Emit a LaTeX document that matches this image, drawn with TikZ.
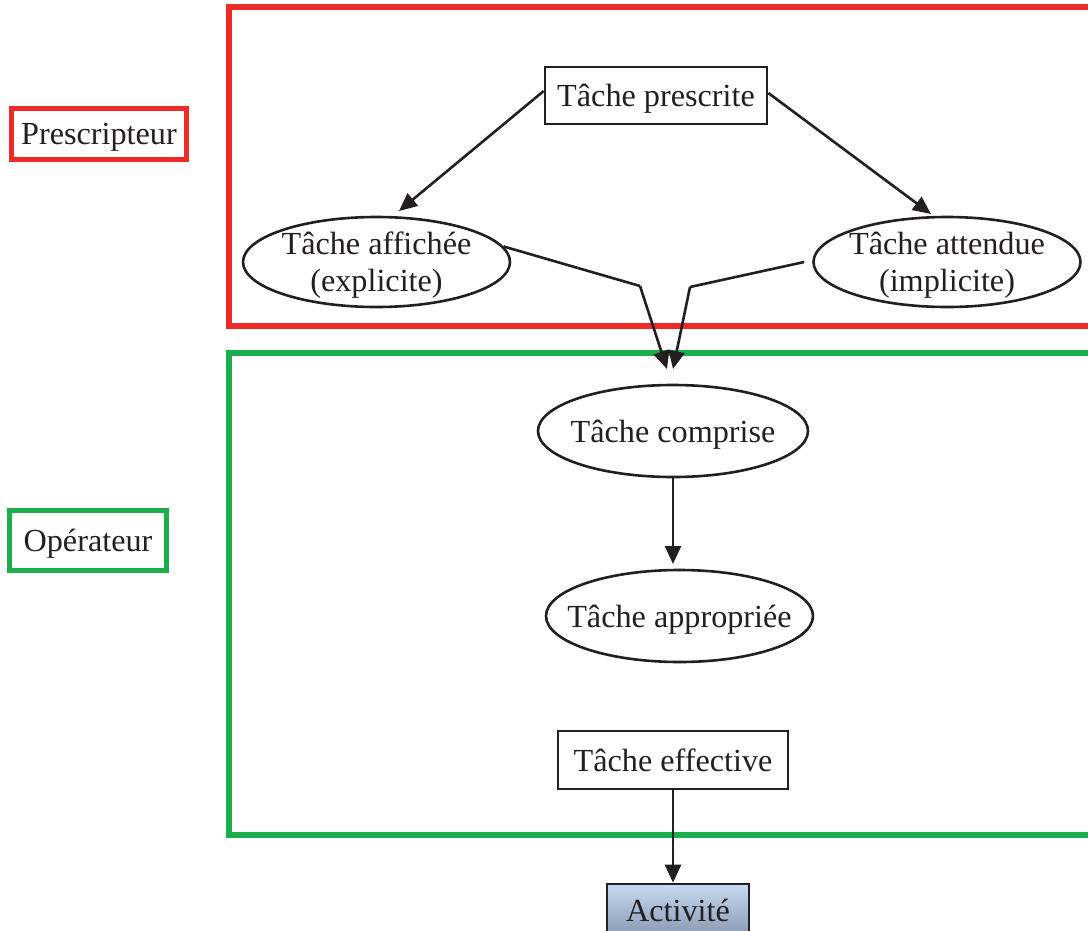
\documentclass[tikz,border=0pt]{standalone}
\usepackage{fontspec}
\setmainfont{Liberation Serif}
\usetikzlibrary{arrows.meta,shapes.geometric}
\definecolor{ink}{RGB}{35,31,32}
\definecolor{pred}{RGB}{238,43,39}
\definecolor{pgreen}{RGB}{27,174,75}
\definecolor{acttop}{RGB}{200,218,242}
\definecolor{actbot}{RGB}{136,152,178}
\tikzset{
  txt/.style={font=\fontsize{32.2}{37}\selectfont, text=ink, align=center, text depth=0pt},
  tbox/.style={txt, draw=ink, line width=2.6pt, rectangle, inner sep=0pt},
  ell/.style={txt, draw=ink, line width=2.6pt, ellipse, inner xsep=-40pt, inner ysep=-20pt, minimum width=267pt, minimum height=90pt},
  redframe/.style={draw=pred, line width=6pt},
  greenframe/.style={draw=pgreen, line width=6.5pt},
  lbl/.style={txt, rectangle, inner sep=0pt},
  arr/.style={draw=ink, line width=2.6pt, -{Triangle[length=18pt,width=16pt]}},
  seg/.style={draw=ink, line width=2.6pt}
}
\begin{document}
\begin{tikzpicture}[x=1pt,y=-1pt]
\useasboundingbox (0,0) rectangle (1088,930);
% big frames
\draw[redframe] (1100,7) -- (229,7) -- (229,326) -- (1100,326);
\draw[greenframe] (1100,353) -- (229,353) -- (229,835) -- (1100,835);
% side labels
\node[lbl, draw=pred, line width=5pt, minimum width=175pt, minimum height=51pt] (presc) at (99,133.5) {Prescripteur};
\node[lbl, draw=pgreen, line width=5pt, minimum width=157pt, minimum height=60pt] (oper) at (88,540.5) {Opérateur};
% nodes
\node[tbox, minimum width=222pt, minimum height=57pt] (tp) at (656,95.5) {Tâche prescrite};
\node[ell] (taff) at (376.5,262) {Tâche affichée\\(explicite)};
\node[ell] (tatt) at (947,262) {Tâche attendue\\(implicite)};
\node[ell, minimum width=270pt, minimum height=92pt] (tcomp) at (673,431) {Tâche comprise};
\node[ell, minimum height=92pt] (tappr) at (679.5,616) {Tâche appropriée};
\node[tbox, minimum width=230pt, minimum height=58pt] (teff) at (673,760) {Tâche effective};
\node[tbox, minimum width=142pt, minimum height=52pt, top color=acttop, bottom color=actbot] (act) at (678,910) {Activité};
% connectors
\coordinate (h1) at (399,211);
\coordinate (h2) at (931,214);
\coordinate (k1) at (640,286);
\coordinate (k2) at (690,287);
\coordinate (t1) at (667,369);
\coordinate (t2) at (673,369);
\coordinate (h3) at (673,564);
\draw[arr] ([yshift=4.5pt]tp.west) -- (h1);
\draw[arr] ([yshift=2.5pt]tp.east) -- (h2);
\draw[seg] (taff.7) -- (k1);
\draw[arr] (k1) -- (t1);
\draw[seg] ([xshift=-8pt]tatt.west) -- (k2);
\draw[arr] (k2) -- (t2);
\draw[arr] (tcomp.south) -- (h3);
\draw[arr] (teff.south) -- (teff.south |- act.north);
\end{tikzpicture}
\end{document}
